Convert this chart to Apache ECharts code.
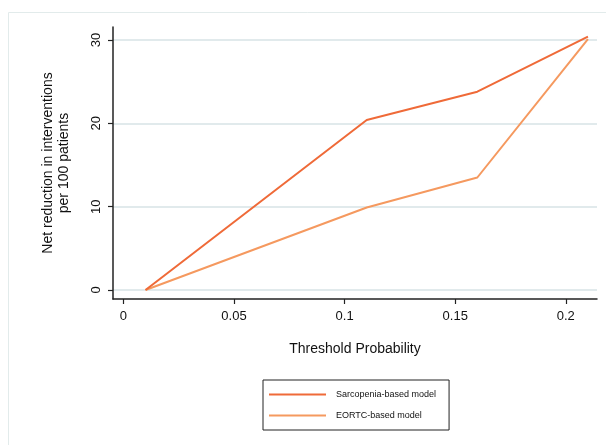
<!DOCTYPE html>
<html>
<head>
<meta charset="utf-8">
<script src="https://cdn.jsdelivr.net/npm/echarts@6/dist/echarts.min.js"></script>
<style>
  html, body { margin: 0; padding: 0; background: #fff; }
  #chart { width: 606px; height: 445px; }
</style>
</head>
<body>
<div id="chart"></div>
<script>
// threshold probabilities
const thresholds = [0.01, 0.11, 0.16, 0.21];
const sarcopenia = [0, 20.4, 23.8, 30.4];
const eortc = [0, 9.9, 13.5, 30.1];
const xTicks = [0, 0.05, 0.1, 0.15, 0.2];
const yTicks = [0, 10, 20, 30];

const font = "'Liberation Sans', Arial, sans-serif";
const chart = echarts.init(document.getElementById("chart"));

function pairs(ys) {
  return thresholds.map((x, i) => [x, ys[i]]);
}

// flat bar used as legend icon (plain line, no symbol)
const lineIcon = "path://M0,0 L57,0 L57,2.2 L0,2.2 Z";

chart.setOption({
  backgroundColor: "#fff",
  animation: false,
  graphic: [
    {
      type: "rect",
      shape: { x: 8.5, y: 12.5, width: 620, height: 460 },
      style: { fill: "none", stroke: "#e2ebeb", lineWidth: 1 },
      silent: true,
    },
  ],
  grid: { left: 113, right: 9, top: 27, bottom: 146 },
  xAxis: {
    type: "value",
    min: -0.0047,
    max: 0.2141,
    name: "Threshold Probability",
    nameLocation: "middle",
    nameGap: 43,
    nameTextStyle: { fontFamily: font, fontSize: 14, color: "#111" },
    axisLine: { show: true, onZero: false, lineStyle: { color: "#222", width: 1.5 } },
    axisTick: { show: true, length: 5, customValues: xTicks, lineStyle: { color: "#222", width: 1.2 } },
    axisLabel: {
      customValues: xTicks,
      fontFamily: font,
      fontSize: 13,
      color: "#111",
      margin: 11,
      formatter: (v) => String(v),
    },
    splitLine: { show: false },
  },
  yAxis: {
    type: "value",
    min: -1.08,
    max: 31.56,
    name: "Net reduction in interventions\nper 100 patients",
    nameLocation: "middle",
    nameGap: 41,
    nameRotate: 90,
    nameTextStyle: { fontFamily: font, fontSize: 14, color: "#111", lineHeight: 16 },
    axisLine: { show: true, onZero: false, lineStyle: { color: "#222", width: 1.5 } },
    axisTick: { show: true, length: 5, customValues: yTicks, lineStyle: { color: "#222", width: 1.2 } },
    axisLabel: {
      customValues: yTicks,
      fontFamily: font,
      fontSize: 13,
      color: "#111",
      rotate: 90,
      margin: 10,
      verticalAlign: "bottom",
      align: "center",
    },
    splitLine: { show: true, lineStyle: { color: "#e1eaec", width: 2 } },
  },
  legend: {
    left: 263,
    top: 380,
    orient: "vertical",
    icon: lineIcon,
    itemWidth: 57,
    itemHeight: 14,
    itemGap: 12,
    padding: [10, 13, 10, 6],
    borderColor: "#222",
    borderWidth: 1,
    textStyle: { fontFamily: font, fontSize: 9, color: "#111", padding: [0, 0, 0, 5] },
    data: ["Sarcopenia-based model", "EORTC-based model"],
  },
  series: [
    {
      name: "Sarcopenia-based model",
      type: "line",
      data: pairs(sarcopenia),
      symbol: "none",
      lineStyle: { color: "#ef6a38", width: 2 },
      itemStyle: { color: "#ef6a38" },
      z: 3,
    },
    {
      name: "EORTC-based model",
      type: "line",
      data: pairs(eortc),
      symbol: "none",
      lineStyle: { color: "#f5995f", width: 2 },
      itemStyle: { color: "#f5995f" },
      z: 2,
    },
  ],
});
</script>
</body>
</html>
